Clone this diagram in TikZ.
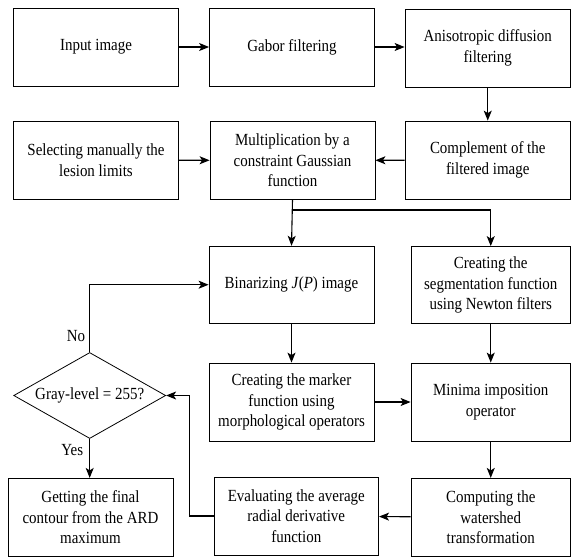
\documentclass[tikz,border=0pt]{standalone}
\usepackage{fontspec}
\setmainfont{Liberation Serif}[FakeStretch=0.88]
\usetikzlibrary{arrows.meta, shapes.geometric}

\begin{document}
\begin{tikzpicture}[>={Stealth[length=10pt, width=8pt, inset=2.5pt]}, x=1pt, y=-1pt, font=\fontsize{17}{20.5}\selectfont,
  box/.style={draw, line width=0.8pt, align=center, inner sep=2pt, minimum height=78},
  link/.style={->, line width=1.1pt}]

\useasboundingbox (0, 0) rectangle (571, 558);

% first row
\node[box, minimum width=164.6] (input) at (96, 47) {Input image};
\node[box, minimum width=165] (gabor) at (292, 47) {Gabor filtering};
\node[box, minimum width=165.5] (aniso) at (487.75, 48) {Anisotropic diffusion\\filtering};

% second row
\node[box, minimum width=164.6] (select) at (96, 160) {Selecting manually the\\lesion limits};
\node[box, minimum width=165] (mult) at (292.5, 160.5) {Multiplication by a\\constraint Gaussian\\function};
\node[box, minimum width=165.5] (compl) at (487.75, 160) {Complement of the\\filtered image};

% third and fourth row
\node[box, minimum width=165, minimum height=77] (binar) at (291.5, 284.7) {Binarizing \textit{J}(\textit{P}) image};
\node[box, minimum width=159.5, minimum height=77] (segm) at (490.75, 285) {Creating the\\segmentation function\\using Newton filters};
\node[box, minimum width=165] (marker) at (291.5, 402) {Creating the marker\\function using\\morphological operators};
\node[box, minimum width=159.5] (minima) at (490.75, 402) {Minima imposition\\operator};
\node[draw, diamond, line width=0.8pt, inner sep=0pt, shape aspect=1.77, minimum width=152, minimum height=86] (check) at (89.7, 395.5) {Gray-level = 255?};

% last row
\node[box, minimum width=165] (final) at (90.5, 517.3) {Getting the final\\contour from the ARD\\maximum};
\node[box, minimum width=164.7] (evalu) at (296.3, 516) {Evaluating the average\\radial derivative\\function};
\node[box, minimum width=159.5] (compu) at (490.75, 517.3) {Computing the\\watershed\\transformation};

\coordinate (split) at (292.5, 210);
\coordinate (back) at (189.4, 395.5);

\draw[link] (input) -- (gabor);
\draw[link] (gabor) -- (aniso.west |- gabor);
\draw[link] (aniso) -- (compl);
\draw[link] (select) -- (mult);
\draw[link] (compl) -- (mult);
\draw[link] (mult.south) -- (binar.north); %split
\draw[link] (split) -| (segm.north);
\draw[link] (binar) -- (marker);
\draw[link] (segm) -- (minima);
\draw[link] (marker) -- (minima);
\draw[link] (minima) -- (compu);
\draw[link] (compu) -- (evalu);
\draw[link] (evalu.west) -| (back) -- (check.east); %loop
\draw[link] (check.north) |- (binar.west) node[pos=0.12, left, inner sep=4pt] (no) {No};
\draw[link] (check.south) -- (check.south |- final.north) node[pos=0.28, left, inner sep=6pt] (yes) {Yes};

\end{tikzpicture}
\end{document}
